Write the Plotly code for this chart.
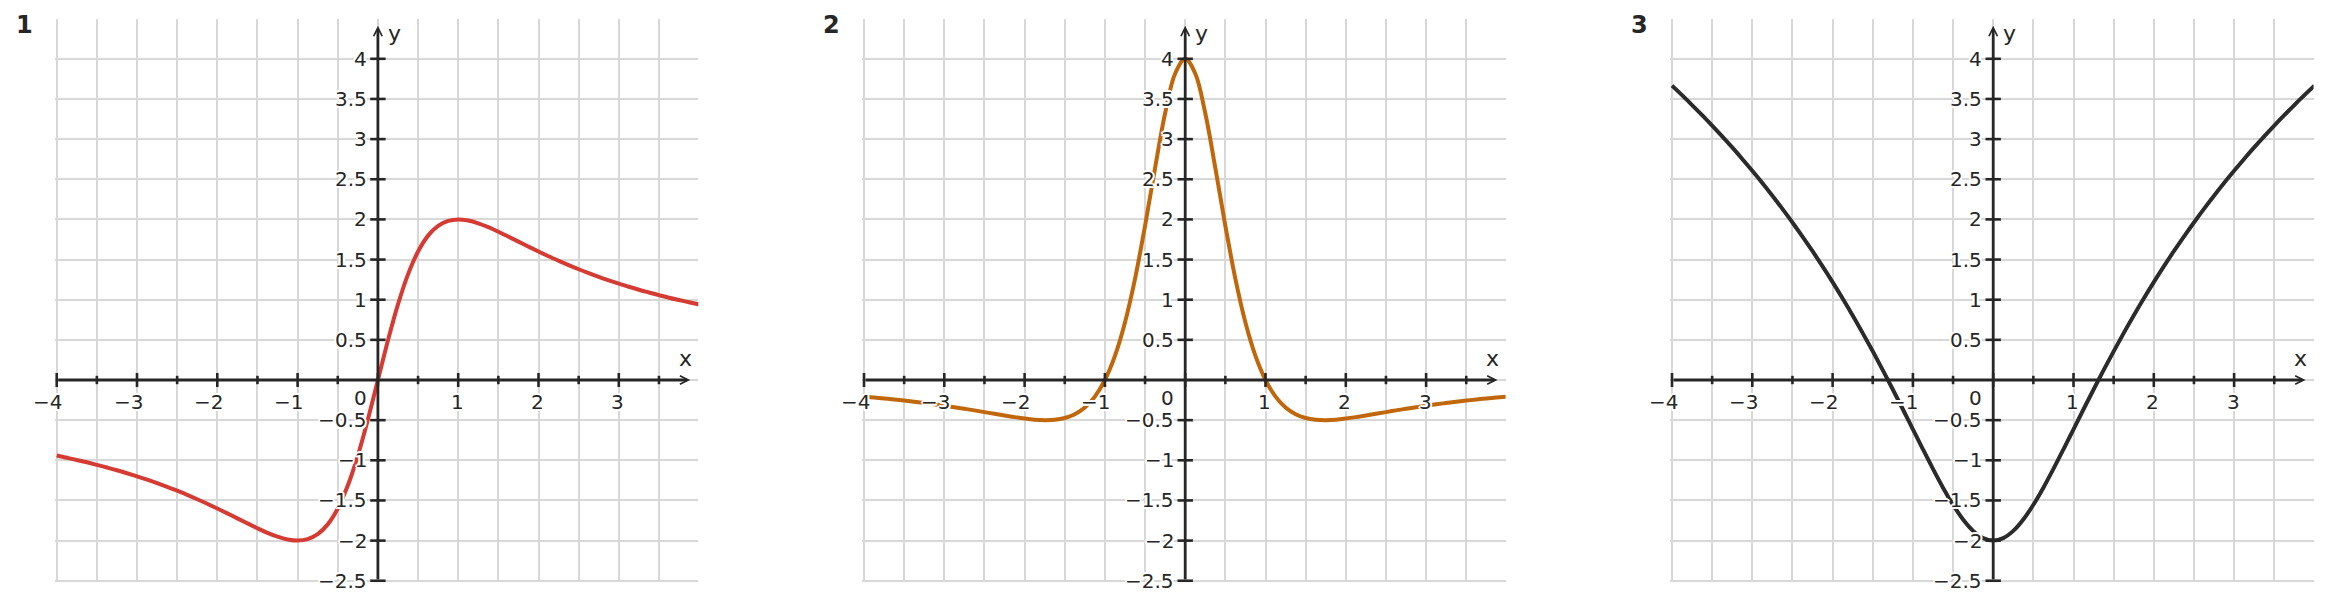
import plotly.graph_objects as go

W, H = 2333, 609

# sample positions along x (same for the three curves)
X = [-4, -3.875, -3.75, -3.625, -3.5, -3.375, -3.25, -3.125, -3, -2.875, -2.75, -2.625,
     -2.5, -2.375, -2.25, -2.125, -2, -1.875, -1.75, -1.625, -1.5, -1.375, -1.25, -1.125,
     -1, -0.875, -0.75, -0.625, -0.5, -0.375, -0.25, -0.125, 0,
     0.125, 0.25, 0.375, 0.5, 0.625, 0.75, 0.875, 1, 1.125, 1.25, 1.375, 1.5, 1.625,
     1.75, 1.875, 2, 2.125, 2.25, 2.375, 2.5, 2.625, 2.75, 2.875, 3, 3.125, 3.25, 3.375,
     3.5, 3.625, 3.75, 3.875, 4]

# panel 1 (red)
Y1 = [-0.941, -0.968, -0.996, -1.025, -1.057, -1.090, -1.124, -1.161, -1.200, -1.241,
      -1.285, -1.331, -1.379, -1.431, -1.485, -1.541, -1.600, -1.661, -1.723, -1.785,
      -1.846, -1.903, -1.951, -1.986, -2.000, -1.982, -1.920, -1.798, -1.600, -1.315,
      -0.941, -0.492, 0.000,
      0.492, 0.941, 1.315, 1.600, 1.798, 1.920, 1.982, 2.000, 1.986, 1.951, 1.903,
      1.846, 1.785, 1.723, 1.661, 1.600, 1.541, 1.485, 1.431, 1.379, 1.331, 1.285,
      1.241, 1.200, 1.161, 1.124, 1.090, 1.057, 1.025, 0.996, 0.968, 0.941]

# panel 2 (orange)
Y2 = [-0.208, -0.219, -0.230, -0.243, -0.256, -0.271, -0.286, -0.303, -0.320, -0.339,
      -0.358, -0.378, -0.400, -0.421, -0.442, -0.462, -0.480, -0.494, -0.500, -0.495,
      -0.473, -0.426, -0.343, -0.207, 0.000, 0.301, 0.717, 1.260, 1.920, 2.642,
      3.322, 3.817, 4.000,
      3.817, 3.322, 2.642, 1.920, 1.260, 0.717, 0.301, 0.000, -0.207, -0.343, -0.426,
      -0.473, -0.495, -0.500, -0.494, -0.480, -0.462, -0.442, -0.421, -0.400, -0.378,
      -0.358, -0.339, -0.320, -0.303, -0.286, -0.271, -0.256, -0.243, -0.230, -0.219, -0.208]

# panel 3 (dark)
Y3 = [3.666, 3.547, 3.424, 3.298, 3.168, 3.034, 2.896, 2.753, 2.605, 2.453, 2.295, 2.131,
      1.962, 1.786, 1.604, 1.415, 1.219, 1.015, 0.804, 0.584, 0.357, 0.123, -0.118, -0.364,
      -0.614, -0.863, -1.107, -1.341, -1.554, -1.737, -1.879, -1.969, -2.000,
      -1.969, -1.879, -1.737, -1.554, -1.341, -1.107, -0.863, -0.614, -0.364, -0.118, 0.123,
      0.357, 0.584, 0.804, 1.015, 1.219, 1.415, 1.604, 1.786, 1.962, 2.131, 2.295, 2.453,
      2.605, 2.753, 2.896, 3.034, 3.168, 3.298, 3.424, 3.547, 3.666]

PANEL_NAMES = ["1", "2", "3"]
CURVE_COLORS = ["#d63b33", "#c0670c", "#2b2b2b"]

X_TICK_VALS = [-4, -3, -2, -1, 1, 2, 3]
X_TICK_TEXT = ["−4", "−3", "−2", "−1", "1", "2", "3"]
X_MINOR_VALS = [-3.5, -2.5, -1.5, -0.5, 0.5, 1.5, 2.5, 3.5]
Y_TICK_VALS = [-2.5, -2, -1.5, -1, -0.5, 0.5, 1, 1.5, 2, 2.5, 3, 3.5, 4]
Y_TICK_TEXT = ["−2.5", "−2", "−1.5", "−1", "−0.5", "0.5", "1", "1.5", "2", "2.5", "3", "3.5", "4"]

X_RANGE = [-4.02, 3.99]
Y_RANGE = [-2.52, 4.49]
X_ARROW_END = 3.89
Y_ARROW_END = 4.41

FONT = "DejaVu Sans"
INK = "#262626"
GRID = "#d8d8d8"
HALO = ", ".join(f"white {dx}px {dy}px 0px" for dx, dy in
                 [(2, 0), (-2, 0), (0, 2), (0, -2), (1.5, 1.5), (-1.5, 1.5), (1.5, -1.5), (-1.5, -1.5)])

# pixel placement of the panels (the page adds an 8px body margin)
UNIT = 80.3
LEFT_PX = [48.7, 856.0, 1664.0]   # where x = -4 lands
ZERO_Y_PX = 372.0                 # where y = 0 lands, from the top

fig = go.Figure()
annotations = []

tick_font = dict(family=FONT, size=20, color=INK, shadow=HALO)
name_font = dict(family=FONT, size=22, color=INK)

for i, (name, ys, color) in enumerate(zip(PANEL_NAMES, [Y1, Y2, Y3], CURVE_COLORS)):
    n = "" if i == 0 else str(i + 1)
    xa, ya = "x" + n, "y" + n

    x0 = LEFT_PX[i] + (X_RANGE[0] + 4) * UNIT
    x1 = LEFT_PX[i] + (X_RANGE[1] + 4) * UNIT
    top = ZERO_Y_PX - Y_RANGE[1] * UNIT
    bottom = ZERO_Y_PX - Y_RANGE[0] * UNIT

    axis_common = dict(
        showgrid=True, gridcolor=GRID, gridwidth=1.6,
        tickmode="linear", tick0=0, dtick=0.5,
        showticklabels=False, ticks="", zeroline=False, showline=False,
        fixedrange=True,
    )
    fig.layout["xaxis" + n] = dict(domain=[x0 / W, x1 / W], range=X_RANGE, anchor=ya, **axis_common)
    fig.layout["yaxis" + n] = dict(domain=[(H - bottom) / H, (H - top) / H], range=Y_RANGE,
                                   anchor=xa, **axis_common)

    fig.add_trace(go.Scatter(
        x=X, y=ys, xaxis=xa, yaxis=ya, mode="lines",
        line=dict(color=color, width=4, shape="spline", smoothing=1),
    ))

    # tick marks on the axes
    fig.add_trace(go.Scatter(
        x=X_TICK_VALS + [0], y=[0] * (len(X_TICK_VALS) + 1), xaxis=xa, yaxis=ya,
        mode="markers", cliponaxis=False,
        marker=dict(symbol="line-ns", size=10, line=dict(width=2.6, color=INK)),
    ))
    fig.add_trace(go.Scatter(
        x=X_MINOR_VALS, y=[0] * len(X_MINOR_VALS), xaxis=xa, yaxis=ya,
        mode="markers", cliponaxis=False,
        marker=dict(symbol="line-ns", size=6, line=dict(width=2.6, color=INK)),
    ))
    fig.add_trace(go.Scatter(
        x=[0] * len(Y_TICK_VALS), y=Y_TICK_VALS, xaxis=xa, yaxis=ya,
        mode="markers", cliponaxis=False,
        marker=dict(symbol="line-ew", size=11, line=dict(width=2.6, color=INK)),
    ))

    # axes with arrow heads
    annotations.append(dict(
        x=X_ARROW_END, y=0, ax=X_RANGE[0] + 0.02, ay=0, xref=xa, yref=ya, axref=xa, ayref=ya,
        text="", showarrow=True, arrowhead=5, arrowsize=0.6, arrowwidth=2.8, arrowcolor=INK,
        standoff=0, startstandoff=0,
    ))
    annotations.append(dict(
        x=0, y=Y_ARROW_END, ax=0, ay=Y_RANGE[0] + 0.02, xref=xa, yref=ya, axref=xa, ayref=ya,
        text="", showarrow=True, arrowhead=5, arrowsize=0.6, arrowwidth=2.8, arrowcolor=INK,
        standoff=0, startstandoff=0,
    ))

    # tick labels
    for v, t in zip(X_TICK_VALS, X_TICK_TEXT):
        annotations.append(dict(
            x=v, y=0, xref=xa, yref=ya, text=t, showarrow=False, borderpad=0,
            xanchor="right", yanchor="top", xshift=6.5, yshift=-9, font=tick_font,
        ))
    for v, t in zip(Y_TICK_VALS, Y_TICK_TEXT):
        annotations.append(dict(
            x=0, y=v, xref=xa, yref=ya, text=t, showarrow=False, borderpad=0,
            xanchor="right", yanchor="middle", xshift=-10, font=tick_font,
        ))
    annotations.append(dict(
        x=0, y=0, xref=xa, yref=ya, text="0", showarrow=False, borderpad=0,
        xanchor="right", yanchor="top", xshift=-10, yshift=-5, font=tick_font,
    ))

    # axis names
    annotations.append(dict(
        x=3.83, y=0, xref=xa, yref=ya, text="x", showarrow=False,
        xanchor="center", yanchor="bottom", yshift=7, font=name_font,
    ))
    annotations.append(dict(
        x=0, y=4.32, xref=xa, yref=ya, text="y", showarrow=False,
        xanchor="left", yanchor="middle", xshift=8, font=name_font,
    ))

    # panel number
    annotations.append(dict(
        x=0, y=1, xref=xa + " domain", yref=ya + " domain", text=f"<b>{name}</b>",
        showarrow=False, xanchor="center", yanchor="middle", xshift=-31, yshift=-6,
        font=dict(family=FONT, size=24, color=INK),
    ))

fig.update_layout(
    width=W, height=H,
    margin=dict(l=0, r=0, t=0, b=0),
    paper_bgcolor="white", plot_bgcolor="white",
    showlegend=False, hovermode=False,
    annotations=annotations,
)

fig.write_html("out.html")
